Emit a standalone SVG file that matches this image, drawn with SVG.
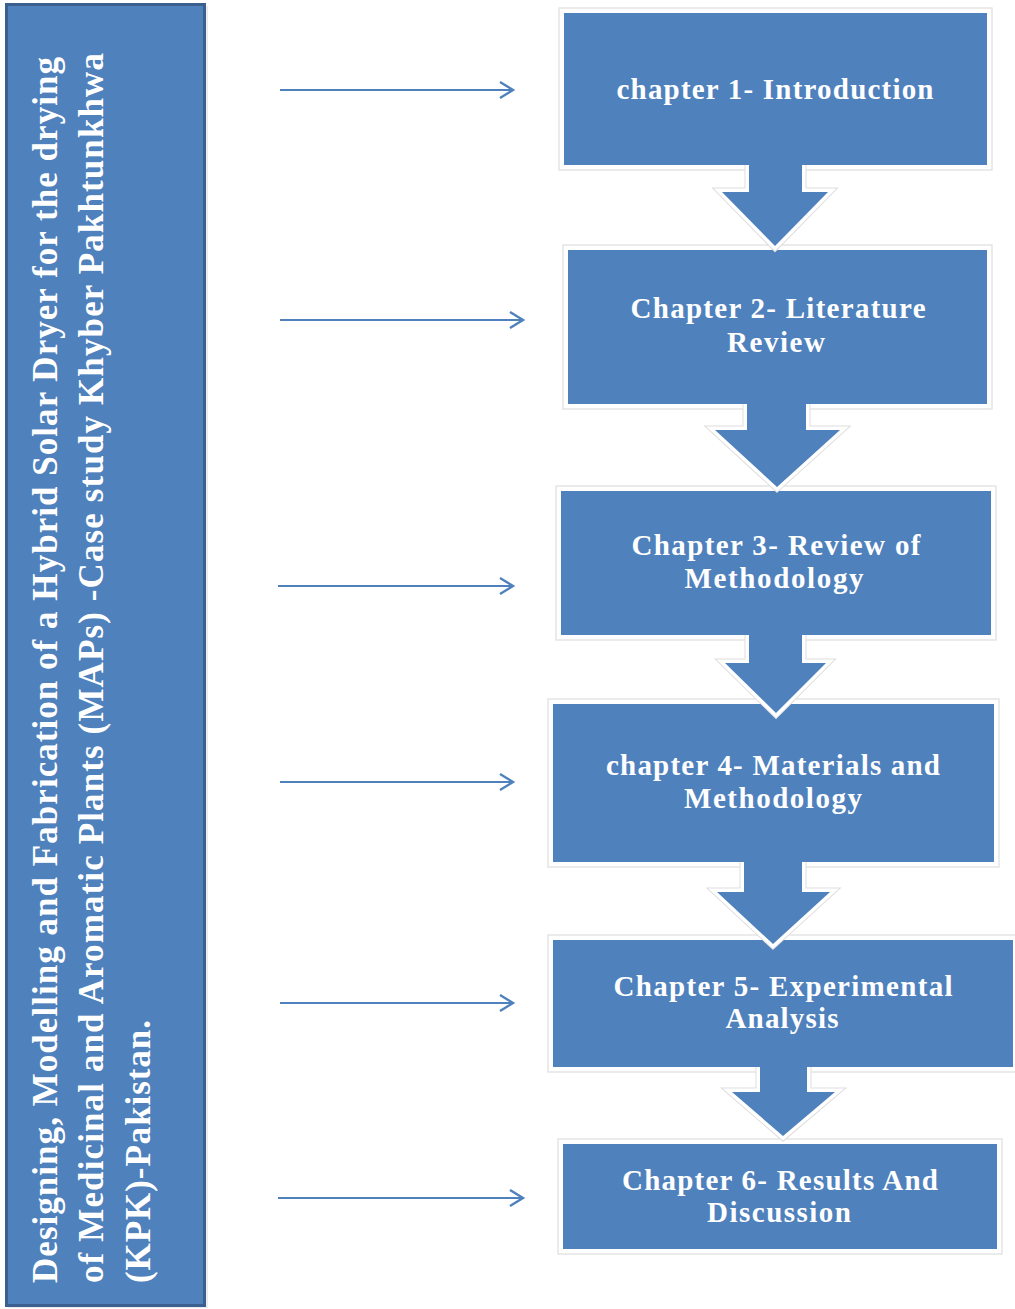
<svg xmlns="http://www.w3.org/2000/svg" width="1015" height="1309" viewBox="0 0 1015 1309">
<defs>
<style>
.box{fill:#4f81bd}
.halo{fill:#ffffff;stroke:#dedede;stroke-width:1.2}
.t{font-family:"Liberation Serif","Times New Roman",serif;font-weight:bold;font-size:29px;fill:#ffffff;text-anchor:middle}
.vt{font-family:"Liberation Serif","Times New Roman",serif;font-weight:bold;font-size:35px;fill:#ffffff}
.h1{fill:none;stroke:#dedede;stroke-width:9;stroke-linejoin:miter}
.h2{fill:none;stroke:#ffffff;stroke-width:7;stroke-linejoin:miter}
.af{fill:#4f81bd}
.ln{fill:none;stroke:#4f81bd;stroke-width:2.2}
</style>
<marker id="oa" markerWidth="20" markerHeight="20" refX="17" refY="10" orient="auto" markerUnits="userSpaceOnUse">
<path d="M4,2 L17,10 L4,18" fill="none" stroke="#4f81bd" stroke-width="2.4"/>
</marker>
</defs>
<rect width="1015" height="1309" fill="#ffffff"/>

<g id="title">
<rect x="8" y="6" width="200" height="1302" fill="#d9d9d9" opacity="0.5"/>
<rect x="6.5" y="4.5" width="198" height="1301" fill="#4f81bd" stroke="#3b5f8e" stroke-width="3"/>
<text class="vt" transform="translate(57,1283) rotate(-90)" textLength="1226" lengthAdjust="spacing">Designing, Modelling and Fabrication of a Hybrid Solar Dryer for the drying</text>
<text class="vt" transform="translate(103,1283) rotate(-90)" textLength="1230" lengthAdjust="spacing">of Medicinal and Aromatic Plants (MAPs) -Case study Khyber Pakhtunkhwa</text>
<text class="vt" transform="translate(150,1283) rotate(-90)" textLength="263" lengthAdjust="spacing">(KPK)-Pakistan.</text>
</g>

<g id="ch1">
<rect class="halo" x="559" y="8" width="433" height="162"/>
<rect class="box" x="564" y="13" width="423" height="152"/>
<text class="t" x="775" y="99" textLength="317" lengthAdjust="spacing">chapter 1- Introduction</text>
</g>
<g id="ch2">
<rect class="halo" x="563" y="245" width="429" height="164"/>
<rect class="box" x="568" y="250" width="419" height="154"/>
<text class="t" x="778" y="318" textLength="295" lengthAdjust="spacing">Chapter 2- Literature</text>
<text class="t" x="776" y="352" textLength="98" lengthAdjust="spacing">Review</text>
</g>
<g id="ch3">
<rect class="halo" x="556" y="486" width="440" height="154"/>
<rect class="box" x="561" y="491" width="430" height="144"/>
<text class="t" x="776" y="555" textLength="289" lengthAdjust="spacing">Chapter 3- Review of</text>
<text class="t" x="774" y="588" textLength="179" lengthAdjust="spacing">Methodology</text>
</g>
<g id="ch4">
<rect class="halo" x="548" y="699" width="451" height="168"/>
<rect class="box" x="553" y="704" width="441" height="158"/>
<text class="t" x="773" y="775" textLength="334" lengthAdjust="spacing">chapter 4- Materials and</text>
<text class="t" x="773" y="808" textLength="178" lengthAdjust="spacing">Methodology</text>
</g>
<g id="ch5">
<rect class="halo" x="548" y="935" width="470" height="137"/>
<rect class="box" x="553" y="940" width="460" height="127"/>
<text class="t" x="783" y="996" textLength="339" lengthAdjust="spacing">Chapter 5- Experimental</text>
<text class="t" x="782" y="1028" textLength="113" lengthAdjust="spacing">Analysis</text>
</g>
<g id="ch6">
<rect class="halo" x="558" y="1139" width="444" height="115"/>
<rect class="box" x="563" y="1144" width="434" height="105"/>
<text class="t" x="780" y="1190" textLength="316" lengthAdjust="spacing">Chapter 6- Results And</text>
<text class="t" x="779" y="1222" textLength="144" lengthAdjust="spacing">Discussion</text>
</g>

<g id="connectors">
<path class="h1" d="M749,165 V192 H722 L775,246 L828,192 H802 V165"/>
<path class="h2" d="M749,165 V192 H722 L775,246 L828,192 H802 V165"/>
<polygon class="af" points="749,163 749,192 722,192 775,246 828,192 802,192 802,163"/>

<path class="h1" d="M747,404 V430 H715 L777,487 L840,430 H806 V404"/>
<path class="h2" d="M747,404 V430 H715 L777,487 L840,430 H806 V404"/>
<polygon class="af" points="747,402 747,430 715,430 777,487 840,430 806,430 806,402"/>

<path class="h1" d="M749,635 V663 H725 L776,713 L826,663 H802 V635"/>
<path class="h2" d="M749,635 V663 H725 L776,713 L826,663 H802 V635"/>
<polygon class="af" points="749,633 749,663 725,663 776,713 826,663 802,663 802,633"/>

<path class="h1" d="M744,862 V892 H717 L773,944 L830,892 H802 V862"/>
<path class="h2" d="M744,862 V892 H717 L773,944 L830,892 H802 V862"/>
<polygon class="af" points="744,860 744,892 717,892 773,944 830,892 802,892 802,860"/>

<path class="h1" d="M760,1067 V1092 H732 L783,1136 L835,1092 H807 V1067"/>
<path class="h2" d="M760,1067 V1092 H732 L783,1136 L835,1092 H807 V1067"/>
<polygon class="af" points="760,1065 760,1092 732,1092 783,1136 835,1092 807,1092 807,1065"/>

<line class="ln" x1="280" y1="90" x2="513" y2="90" marker-end="url(#oa)"/>
<line class="ln" x1="280" y1="320" x2="523" y2="320" marker-end="url(#oa)"/>
<line class="ln" x1="278" y1="586" x2="513" y2="586" marker-end="url(#oa)"/>
<line class="ln" x1="280" y1="782" x2="513" y2="782" marker-end="url(#oa)"/>
<line class="ln" x1="280" y1="1003" x2="513" y2="1003" marker-end="url(#oa)"/>
<line class="ln" x1="278" y1="1198" x2="523" y2="1198" marker-end="url(#oa)"/>
</g>
</svg>
